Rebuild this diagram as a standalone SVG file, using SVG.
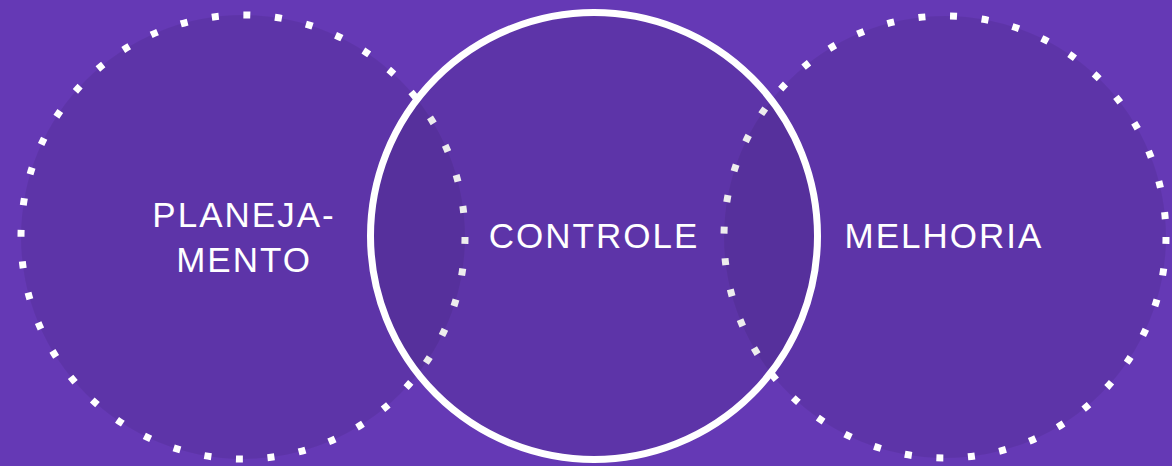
<svg xmlns="http://www.w3.org/2000/svg" width="1172" height="466" viewBox="0 0 1172 466">
<style>
.dot{fill:#000;fill-opacity:0.07;stroke:#fff;stroke-width:7;stroke-dasharray:7 24.7}
.main{fill:#000;fill-opacity:0.07;stroke:#fff;stroke-width:7}
.lbl{font-family:"Liberation Sans",Arial,sans-serif;font-size:35px;fill:#fff;text-anchor:middle;letter-spacing:2px}
</style>
<rect width="1172" height="466" fill="#6539b5"/>
<g id="planejamento">
<circle class="dot" cx="243" cy="237" r="222"/>
<text class="lbl" x="244" y="227">PLANEJA-</text>
<text class="lbl" x="244" y="272">MENTO</text>
</g>
<g id="melhoria">
<circle class="dot" cx="945" cy="237" r="221"/>
<text class="lbl" x="944" y="248">MELHORIA</text>
</g>
<g id="controle">
<circle class="main" cx="594" cy="236" r="223.5"/>
<text class="lbl" x="594" y="248">CONTROLE</text>
</g>
<g id="connectors"></g>
</svg>
